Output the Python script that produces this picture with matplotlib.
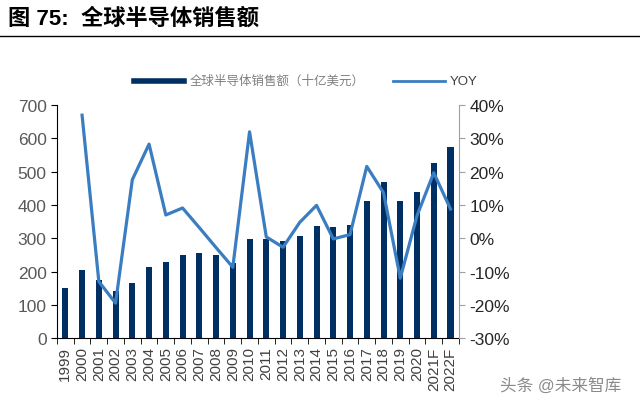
import matplotlib
matplotlib.use("Agg")
import matplotlib.pyplot as plt
import numpy as np
from matplotlib.ticker import FuncFormatter, FixedLocator

plt.rcParams["font.family"] = ["Liberation Sans", "Noto Sans CJK SC", "DejaVu Sans"]

years = ["1999", "2000", "2001", "2002", "2003", "2004", "2005", "2006", "2007", "2008",
         "2009", "2010", "2011", "2012", "2013", "2014", "2015", "2016", "2017", "2018",
         "2019", "2020", "2021F", "2022F"]
sales = [150, 204, 175, 142, 166, 213, 228, 249, 255, 249,
         226, 298, 299, 291, 306, 336, 335, 339, 412, 468,
         412, 440, 527, 573]
# YOY starts from 2000
yoy = [None, 37.0, -13.0, -19.5, 17.6, 28.3, 7.0, 9.1, 3.2, -2.8,
       -8.7, 32.0, 0.4, -2.7, 4.8, 9.9, -0.2, 1.1, 21.6, 13.7,
       -12.0, 6.8, 19.7, 8.8]

BAR_COLOR = "#002F63"
LINE_COLOR = "#3A7DC0"

fig = plt.figure(figsize=(6.4, 4.1), dpi=100)

# title and rule
fig.text(0.012, 0.955, "图 75:  全球半导体销售额", fontsize=16, fontweight="bold",
         ha="left", va="center", color="black")
fig.add_artist(plt.Line2D([0.0, 1.0], [0.91, 0.91], color="black", lw=1.0))

ax = fig.add_axes([0.089, 0.173, 0.628, 0.568])
x = np.arange(len(years))
ax.bar(x, sales, width=0.36, color=BAR_COLOR, zorder=2)
ax.set_xlim(-0.5, len(years) - 0.5)
ax.set_ylim(0, 700)
ax.set_yticks(range(0, 701, 100))
ax.tick_params(axis="y", labelsize=12.5, labelcolor="#595959", length=4, direction="out")
ax.set_xticks(x)
ax.set_xticklabels(years, rotation=90, fontsize=11, color="#404040")
ax.tick_params(axis="x", length=0, pad=6)
ax.xaxis.set_minor_locator(FixedLocator(np.arange(-0.5, len(years), 1.0)))
ax.tick_params(axis="x", which="minor", length=4, direction="out", color="black")
ax.spines["top"].set_visible(False)
ax.spines["right"].set_visible(False)

ax2 = ax.twinx()
yx = [i for i, v in enumerate(yoy) if v is not None]
yv = [v for v in yoy if v is not None]
ax2.plot(yx, yv, color=LINE_COLOR, lw=2.3, zorder=3)
ax2.set_ylim(-30, 40)
ax2.set_yticks(range(-30, 41, 10))
ax2.yaxis.set_major_formatter(FuncFormatter(lambda v, p: f"{int(v)}%"))
ax2.tick_params(axis="y", labelsize=12.5, labelcolor="#262626", length=4, color="#a0a0a0")
ax2.spines["top"].set_visible(False)
ax2.spines["left"].set_visible(False)
ax2.spines["bottom"].set_visible(False)
ax2.spines["right"].set_color("#a0a0a0")

# legend drawn manually in figure coords
fig.add_artist(plt.Line2D([0.21, 0.287], [0.80, 0.80], color=BAR_COLOR, lw=4))
fig.text(0.297, 0.80, "全球半导体销售额（十亿美元）", fontsize=9, color="#808080",
         ha="left", va="center")
fig.add_artist(plt.Line2D([0.614, 0.695], [0.80, 0.80], color=LINE_COLOR, lw=2))
fig.text(0.703, 0.80, "YOY", fontsize=9.5, color="#404040", ha="left", va="center")

# watermark
fig.text(0.97, 0.06, "头条 @未来智库", fontsize=12, color="#8a8a8a", ha="right", va="center")

fig.savefig("out.png", dpi=100)
